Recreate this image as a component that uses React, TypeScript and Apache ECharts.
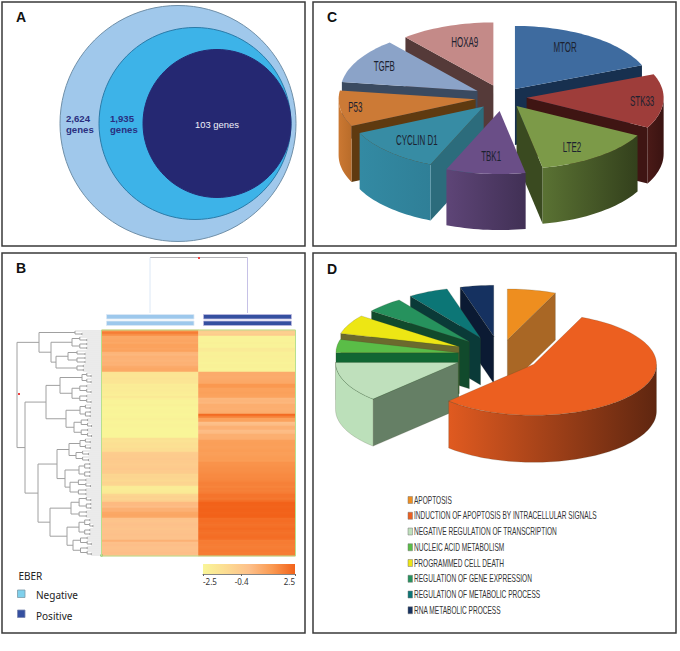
import React, { useEffect, useRef } from "react";
import * as echarts from "echarts";

// ---------- Panel A ----------
const vennLabels = [["2,624", "genes"], ["1,935", "genes"], ["103 genes"]];

// ---------- Panel B ----------
const heatColumns = ["Negative", "Positive"];
const negativeRow = [
  1.4, 1.9, 1.5, 0.8, 0.8, 0.9, 0.8, 1.0, 1.0, 0.9, 1.0, 0.4, 0.3, 0.5, 0.45, 0.4, 0.5, 0.45, 0.7, 0.8, 0.8,
  -1.6, -1.7, -1.7, -1.6, -1.7, -1.7, -2.1, -2.0, -2.1, -2.0, -2.1, -2.2, -1.9, -2.2,
  -2.4, -2.4, -2.3, -2.4, -2.5, -2.4, -2.4, -2.5, -2.4, -2.3, -2.4, -2.5, -2.4, -2.4, -2.5,
  -2.5, -2.5, -2.5, -2.5,
  -1.5, -1.6, -1.5, -1.4, -1.5, -1.3, -1.3,
  -0.6, -0.5, -0.5, -0.4, -0.5, -0.5, -0.6, -0.5, -0.4, -0.5, -0.5,
  -1.0, -0.9, -1.0, -1.1, -0.9, -1.0,
  -2.0, -2.1, -2.0, -1.9,
  -1.0, -0.8, -0.9, -0.7,
  0.2, 0.2, 0.1, 0.5, 0.5, 0.8, 0.85, 0.8,
  -0.1, -0.2, -0.1, 0.0, -0.1, -0.2, -0.1, -0.1, 0.0, -0.1, -0.1,
  0.5, 0.0, 0.05, 0.0, -0.05, 0.0, 0.05, 0.0,
];
const positiveRow = [
  -0.5, -0.7, -0.5, -2.4, -2.4, -2.4, -2.3, -2.4, -2.4, -2.0, -2.0,
  -2.3, -2.3, -2.2, -2.3, -2.3, -2.4, -2.3, -2.3, -2.4, -2.3,
  0.7, 0.7, 0.65, 0.7, 0.75, 0.8, 1.3, 1.3, 1.0, 1.0, 1.05, 1.0, 0.95,
  0.3, 0.35, 0.3, 0.6, 0.6, 0.55, 0.6, 0.65, 2.3, 1.8, 1.0, 1.0, 0.0, 0.1,
  0.5, 0.5, 0.1, 0.15, 0.55, 0.55, 0.6,
  1.05, 1.1, 1.1, 1.05, 1.1, 1.15, 1.1, 1.1, 1.15, 1.2, 1.15,
  1.4, 1.4, 1.45, 1.5, 1.5, 1.55, 1.6, 1.6, 1.65, 1.7,
  1.8, 1.8, 1.75, 1.85, 1.8, 1.9,
  2.1, 2.1, 2.0, 2.2,
  2.5, 2.5, 2.45, 2.5, 2.5, 2.45, 2.5, 2.5,
  2.2, 2.25, 2.2, 2.15, 2.2, 2.3, 2.2, 2.15, 2.2, 2.25, 2.2,
  1.9, 1.95, 1.9, 1.85, 1.9, 1.95, 1.9, 1.9,
];
const heatRange = [-2.5, 2.5];
const heatColors = ["#F9F598", "#FCDC92", "#FDC08A", "#FA9A52", "#F2621A"];
const scaleTicks = [-2.5, -0.4, 2.5];
const eberLegend = ["Negative", "Positive"];

type TreeNode = number | [number, TreeNode, TreeNode];
const n = (x: number, a: TreeNode, b: TreeNode): TreeNode => [x, a, b];
const rowTree: TreeNode = n(
  17,
  n(39, n(75, 1, 2), n(51, n(72, 3, 4), n(56, n(68, 3, 4), n(77, 2, 2)))),
  n(
    25,
    n(46, n(60, n(82, 3, 3), n(72, 5, 5)), n(66, n(80, 3, 4), n(74, 5, 5))),
    n(
      38,
      n(57, n(69, n(80, 3, 3), n(76, 3, 3)), n(65, n(79, 4, 4), n(70, 5, 4))),
      n(50, n(71, 7, 4), n(67, n(79, 5, 4), n(73, 5, 5)))
    )
  )
);

// ---------- Panel C ----------
const geneNames = ["MTOR", "STK33", "LTE2", "TBK1", "CYCLIN D1", "P53", "TGFB", "HOXA9"];
const geneShares = [18.9, 13.9, 14.2, 9.4, 11.7, 9.2, 11.7, 11.1];
const geneExplode = [0.16, 0.175, 0.17, 0.22, 0.2, 0.2, 0.21, 0.2];
const geneTops = ["#3E6B9F", "#9E3D3A", "#7C9A48", "#6A4E87", "#378CA4", "#CC7A36", "#8BA3C8", "#C48A88"];
const geneCuts = ["#17304F", "#3F1513", "#3A4A20", "#4A3563", "#2C6C7C", "#5F3A10", "#3A4A60", "#553A39"];
const geneWalls = [
  ["#17304F", "#17304F"], ["#4A1A17", "#3A1311"], ["#5A7233", "#33401C"], ["#5E4577", "#413055"],
  ["#338AA3", "#2F7F97"], ["#CB7832", "#B96C2A"], ["#3A4A60", "#3A4A60"], ["#553A39", "#553A39"],
];
const geneLabelAngles = [29, 94, 148, 185, 222, 262, 300, 343];
const geneLabelReach = [0.755, 0.845, 0.763, 0.71, 0.73, 0.887, 0.786, 0.715];

// ---------- Panel D ----------
const processNames = [
  "APOPTOSIS",
  "INDUCTION OF APOPTOSIS BY INTRACELLULAR SIGNALS",
  "NEGATIVE REGULATION OF TRANSCRIPTION",
  "NUCLEIC ACID METABOLISM",
  "PROGRAMMED CELL DEATH",
  "REGULATION OF GENE EXPRESSION",
  "REGULATION OF METABOLIC PROCESS",
  "RNA METABOLIC PROCESS",
];
const processShares = [6.4, 55.8, 12.8, 4.2, 6.1, 5.0, 5.3, 4.4];
const processExplode = [0.3, 0.33, 0.37, 0.34, 0.37, 0.36, 0.37, 0.37];
const processTops = ["#EE8E1F", "#EC5F20", "#BFE0BC", "#5ABD47", "#EDE614", "#26925D", "#0C7676", "#153160"];
const processCuts = ["#A96725", "#8A3A16", "#657F65", "#116633", "#6B6A2D", "#114A2C", "#0A3A38", "#0B1A33"];
const processWalls = [
  ["#A96725", "#A96725"], ["#E05A20", "#5F2610"], ["#BCE0BA", "#BCE0BA"], ["#116633", "#116633"],
  ["#6B6A2D", "#6B6A2D"], ["#114A2C", "#114A2C"], ["#0A3A38", "#0A3A38"], ["#0B1A33", "#0B1A33"],
];

const ARIAL = '"Liberation Sans", Arial, sans-serif';

function flattenTree(tree: TreeNode) {
  const segs: number[][] = [];
  let row = 0;
  const leaf = () => {
    const y = row + 0.5;
    row += 1;
    return { x: 101, y };
  };
  const walk = (node: TreeNode, x0: number): { x: number; y: number } => {
    if (typeof node === "number") {
      if (node === 1) return leaf();
      const x = x0;
      const nx = x + (98 - x) * 0.38;
      const half = Math.floor(node / 2);
      return join(x, walk(half, nx), walk(node - half, nx));
    }
    const x = node[0];
    const nx = x + (98 - x) * 0.3;
    return join(x, walk(node[1], nx), walk(node[2], nx));
  };
  const join = (x: number, a: { x: number; y: number }, b: { x: number; y: number }) => {
    segs.push([x, a.y, a.x, a.y], [x, b.y, b.x, b.y], [x, a.y, x, b.y]);
    return { x, y: (a.y + b.y) / 2 };
  };
  walk(tree, 17);
  return segs;
}

interface PieCfg {
  names?: string[];
  shares: number[];
  explode: number[];
  tops: string[];
  cuts: string[];
  walls: string[][];
  cx: number;
  cy: number;
  rx: number;
  ry: number;
  depth: number;
  stroke?: string;
  labelAngles?: number[];
  labelReach?: number[];
}

function pieSeries(cfg: PieCfg) {
  const total = cfg.shares.reduce((a, b) => a + b, 0);
  let acc = 0;
  const slices = cfg.shares.map((s, i) => {
    const a0 = (acc / total) * 360;
    acc += s;
    const a1 = (acc / total) * 360;
    return { i, a0, a1, mid: (a0 + a1) / 2 };
  });
  const rad = Math.PI / 180;
  const order = [...slices].sort((p, q) => Math.cos(q.mid * rad) - Math.cos(p.mid * rad));
  const renderItem = (params: any) => {
    const sl = order[params.dataIndex];
    const i = sl.i;
    const e = cfg.explode[i];
    const ax = cfg.cx + Math.sin(sl.mid * rad) * cfg.rx * e;
    const ay = cfg.cy - Math.cos(sl.mid * rad) * cfg.ry * e;
    const pt = (deg: number) => [ax + Math.sin(deg * rad) * cfg.rx, ay - Math.cos(deg * rad) * cfg.ry];
    const arc = (d0: number, d1: number) => {
      const out: number[][] = [];
      const steps = Math.max(2, Math.ceil((d1 - d0) / 2));
      for (let k = 0; k <= steps; k++) out.push(pt(d0 + ((d1 - d0) * k) / steps));
      return out;
    };
    const drop = (p: number[]) => [p[0], p[1] + cfg.depth];
    const line = cfg.stroke
      ? { stroke: cfg.stroke, lineWidth: 0.4 }
      : { lineWidth: 0 };
    const children: any[] = [];
    const apex = [ax, ay];
    const start = pt(sl.a0);
    const end = pt(sl.a1);
    const cut = (p: number[], q: number[]) =>
      children.push({
        type: "polygon",
        shape: { points: [p, q, drop(q), drop(p)] },
        style: { fill: cfg.cuts[i], ...line },
      });
    if (start[0] - apex[0] < -0.01) cut(apex, start);
    if (apex[0] - end[0] < -0.01) cut(end, apex);
    const w0 = Math.max(sl.a0, 90);
    const w1 = Math.min(sl.a1, 270);
    if (w1 > w0) {
      const pts = arc(w0, w1);
      children.push({
        type: "polygon",
        shape: { points: [...pts, ...pts.slice().reverse().map(drop)] },
        style: {
          fill: {
            type: "linear",
            x: 0,
            y: 0,
            x2: 1,
            y2: 0,
            colorStops: [
              { offset: 0, color: cfg.walls[i][0] },
              { offset: 1, color: cfg.walls[i][1] },
            ],
          },
          ...line,
        },
      });
    }
    children.push({
      type: "polygon",
      shape: { points: [apex, ...arc(sl.a0, sl.a1)] },
      style: { fill: cfg.tops[i], ...line },
    });
    if (cfg.names && cfg.labelAngles && cfg.labelReach) {
      const d = cfg.labelAngles[i] * rad;
      const r = cfg.labelReach[i];
      children.push({
        type: "text",
        x: ax + Math.sin(d) * cfg.rx * r,
        y: ay - Math.cos(d) * cfg.ry * r,
        scaleX: 0.57,
        z2: 100,
        style: {
          text: cfg.names[i],
          font: `14px ${ARIAL}`,
          fill: "#1C2230",
          align: "center",
          verticalAlign: "middle",
          textAlign: "center",
          textVerticalAlign: "middle",
        },
      });
    }
    return { type: "group", children };
  };
  return {
    type: "custom",
    coordinateSystem: "none",
    silent: true,
    clip: false,
    renderItem,
    data: order.map((s) => [s.i]),
  };
}

function frame(x: number, y: number, w: number, h: number) {
  return {
    type: "rect",
    shape: { x, y, width: w, height: h },
    style: { fill: "none", stroke: "#3A3A3A", lineWidth: 1.5 },
    z: 50,
  };
}
function label(text: string, x: number, y: number, font: string, fill: string, align = "left", extra: any = {}) {
  return {
    type: "text",
    x,
    y,
    z: 60,
    ...extra,
    style: { text, font, fill, align, verticalAlign: "middle", textAlign: align, textVerticalAlign: "middle" },
  };
}
function seg(x1: number, y1: number, x2: number, y2: number, stroke: string, lineWidth = 1) {
  return { type: "line", z: 5, shape: { x1, y1, x2, y2 }, style: { stroke, lineWidth } };
}
function box(x: number, y: number, w: number, h: number, fill: string, stroke = "none", z = 5, lineWidth = 0.8) {
  return { type: "rect", z, shape: { x, y, width: w, height: h }, style: { fill, stroke, lineWidth } };
}

export default function App() {
  const ref = useRef<HTMLDivElement>(null);
  useEffect(() => {
    const chart = echarts.init(ref.current!, undefined, { renderer: "svg" });
    const segs = flattenTree(rowTree);
    const heatData: number[][] = [];
    negativeRow.forEach((v, r) => heatData.push([0, r, v]));
    positiveRow.forEach((v, r) => heatData.push([1, r, v]));
    const rows = negativeRow.map((_, r) => String(r));

    const vennCircles = [
      { cx: 178, cy: 123.5, r: 118, fill: "#A0C8EB", stroke: "#6F8FA8" },
      { cx: 195, cy: 123.5, r: 96, fill: "#3DB3E8", stroke: "#2B7BA8" },
      { cx: 217, cy: 123.5, r: 74, fill: "#252872", stroke: "#252872" },
    ];

    const graphic: any[] = [
      ...vennCircles.map((c) => ({
        type: "circle",
        z: 2,
        shape: { cx: c.cx, cy: c.cy, r: c.r },
        style: { fill: c.fill, stroke: c.stroke, lineWidth: 1 },
      })),
      label(vennLabels[0][0], 66, 118, `bold 9.6px ${ARIAL}`, "#2A2F7F"),
      label(vennLabels[0][1], 66, 129.5, `bold 9.6px ${ARIAL}`, "#2A2F7F"),
      label(vennLabels[1][0], 110, 118, `bold 9.6px ${ARIAL}`, "#2A2F7F"),
      label(vennLabels[1][1], 110, 129.5, `bold 9.6px ${ARIAL}`, "#2A2F7F"),
      label(vennLabels[2][0], 217, 124, `9.4px ${ARIAL}`, "#F2F2FA", "center"),
      label("A", 16, 17, `bold 14px ${ARIAL}`, "#111"),
      label("B", 16, 268, `bold 14px ${ARIAL}`, "#111"),
      label("C", 327, 17, `bold 14px ${ARIAL}`, "#111"),
      label("D", 327, 269, `bold 14px ${ARIAL}`, "#111"),
      // column dendrogram
      seg(150, 257.5, 247.5, 257.5, "#B4B4B8"),
      seg(150, 257.5, 150, 313, "#DCE8F6"),
      seg(247.5, 257.5, 247.5, 313, "#C6C1E6"),
      box(198, 257, 2, 2, "#F04040"),
      box(18, 393, 2, 2, "#F04040"),
      box(100.5, 554.5, 2, 2, "#4CAF3A", "none", 30),
      // annotation bars
      box(106.5, 314.5, 87.5, 4.5, "#9DC8EC", "#DCE8F5"),
      box(106.5, 321, 87.5, 4.5, "#9DC8EC", "#DCE8F5"),
      box(203.5, 314.5, 88, 4.5, "#3550A0", "#BDB8E0"),
      box(203.5, 321, 88, 4.5, "#3550A0", "#BDB8E0"),
      // heat frame
      {
        type: "rect",
        z: 30,
        shape: { x: 101.5, y: 330, width: 194, height: 226 },
        style: { fill: "none", stroke: "#B7E08F", lineWidth: 1 },
      },
      // EBER legend
      label("EBER", 18.5, 575.5, `10px "Noto Sans", sans-serif`, "#222"),
      box(17.5, 590, 7.5, 7.5, "#7FD0EC", "#7C9AA8"),
      box(17.5, 610, 7.5, 7.5, "#3550A0", "#7C88B0"),
      label(eberLegend[0], 36, 595, `10px "Noto Sans", sans-serif`, "#222"),
      label(eberLegend[1], 36, 615.5, `10px "Noto Sans", sans-serif`, "#222"),
      // frames
      frame(2, 2, 303, 244),
      frame(2, 253, 303, 380),
      frame(313, 2, 363, 244),
      frame(313, 253, 363, 380),
      // D legend
      ...processNames.flatMap((name, i) => {
        const y = 500 + i * 15.75;
        return [
          box(408, y - 3.5, 4.5, 7, processTops[i], "#777", 10, 0.5),
          label(name, 414, y, `10.5px ${ARIAL}`, "#333", "left", { scaleX: 0.625 }),
        ];
      }),
    ];

    chart.setOption({
      animation: false,
      backgroundColor: "#fff",
      grid: [
        { left: 102, top: 330, width: 193, height: 226, containLabel: false },
        { left: 0, top: 330, width: 102, height: 226 },
        { left: 203, top: 564, width: 92, height: 10 },
      ],
      xAxis: [
        { gridIndex: 0, type: "category", data: heatColumns, show: false },
        { gridIndex: 1, type: "value", min: 0, max: 102, show: false },
        {
          gridIndex: 2,
          type: "value",
          min: heatRange[0],
          max: heatRange[1],
          axisLine: { show: true, lineStyle: { color: "#666", width: 0.8 } },
          axisTick: { show: true, length: 2, customValues: scaleTicks, lineStyle: { color: "#666" } },
          axisLabel: {
            customValues: scaleTicks,
            fontSize: 8,
            margin: 3,
            color: "#333",
            fontFamily: '"Noto Sans", sans-serif',
            alignMinLabel: "left",
            alignMaxLabel: "right",
            formatter: (v: number) => String(v),
          },
          splitLine: { show: false },
        },
      ],
      yAxis: [
        { gridIndex: 0, type: "category", data: rows, inverse: true, show: false },
        { gridIndex: 1, type: "value", min: 0, max: 113, inverse: true, show: false },
        { gridIndex: 2, type: "value", min: 0, max: 1, show: false },
      ],
      visualMap: {
        show: false,
        seriesIndex: 0,
        dimension: 2,
        min: heatRange[0],
        max: heatRange[1],
        inRange: { color: heatColors },
      },
      graphic,
      series: [
        {
          type: "heatmap",
          xAxisIndex: 0,
          yAxisIndex: 0,
          data: heatData,
          silent: true,
          itemStyle: { borderWidth: 0.4, borderColor: "transparent" },
          progressive: 0,
        },
        {
          type: "custom",
          xAxisIndex: 1,
          yAxisIndex: 1,
          silent: true,
          data: segs,
          encode: { x: [0, 2], y: [1, 3] },
          renderItem: (_: any, api: any) => {
            const a = api.coord([api.value(0), api.value(1)]);
            const b = api.coord([api.value(2), api.value(3)]);
            const isLeaf = api.value(2) === 101;
            return {
              type: "line",
              shape: { x1: a[0], y1: a[1], x2: b[0], y2: b[1] },
              style: { stroke: isLeaf ? "#C4C4C4" : "#A0A0A0", lineWidth: isLeaf ? 0.7 : 1 },
            };
          },
        },
        {
          type: "custom",
          xAxisIndex: 2,
          yAxisIndex: 2,
          silent: true,
          data: [[heatRange[0], heatRange[1]]],
          encode: { x: [0, 1] },
          renderItem: (_: any, api: any) => {
            const a = api.coord([api.value(0), 1]);
            const b = api.coord([api.value(1), 0]);
            return {
              type: "rect",
              shape: { x: a[0], y: a[1], width: b[0] - a[0], height: b[1] - a[1] },
              style: {
                fill: {
                  type: "linear",
                  x: 0,
                  y: 0,
                  x2: 1,
                  y2: 0,
                  colorStops: heatColors.map((color, i) => ({ offset: i / (heatColors.length - 1), color })),
                },
              },
            };
          },
        },
        pieSeries({
          names: geneNames,
          shares: geneShares,
          explode: geneExplode,
          tops: geneTops,
          cuts: geneCuts,
          walls: geneWalls,
          cx: 502.7,
          cy: 97.3,
          rx: 137,
          ry: 63,
          depth: 56,
          labelAngles: geneLabelAngles,
          labelReach: geneLabelReach,
        }),
        pieSeries({
          shares: processShares,
          explode: processExplode,
          tops: processTops,
          cuts: processCuts,
          walls: processWalls,
          cx: 500,
          cy: 355,
          rx: 122.7,
          ry: 51,
          depth: 47,
          stroke: "rgba(60,60,40,0.45)",
        }),
      ],
    });
    return () => chart.dispose();
  }, []);
  return (
    <div
      ref={ref}
      style={{ position: "absolute", left: 0, top: 0, width: 680, height: 651, background: "#fff" }}
    />
  );
}
